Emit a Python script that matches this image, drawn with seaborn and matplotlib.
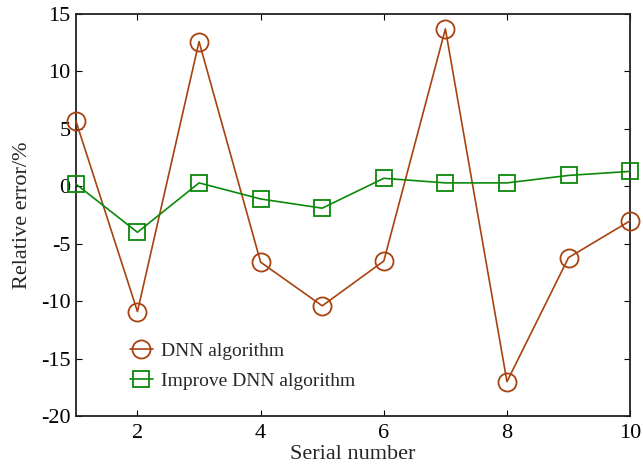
import matplotlib
matplotlib.use("Agg")
import matplotlib.pyplot as plt
import seaborn as sns
import pandas as pd

serial = [1, 2, 3, 4, 5, 6, 7, 8, 9, 10]
dnn_error = [5.7, -10.9, 12.6, -6.6, -10.4, -6.5, 13.7, -17.0, -6.2, -3.0]
improved_error = [0.2, -4.0, 0.3, -1.1, -1.9, 0.7, 0.3, 0.3, 0.95, 1.3]
series_names = ["DNN algorithm", "Improve DNN algorithm"]
x_ticks = [2, 4, 6, 8, 10]
y_ticks = [-20, -15, -10, -5, 0, 5, 10, 15]

sns.set_style("white")
plt.rcParams["font.family"] = ["Liberation Serif", "DejaVu Serif"]
plt.rcParams["axes.unicode_minus"] = False

df = pd.DataFrame({"serial": serial, "dnn": dnn_error, "improved": improved_error})

fig = plt.figure(figsize=(6.43, 4.66), dpi=100)
ax = fig.add_axes([0.118, 0.107, 0.862, 0.863])

sns.lineplot(data=df, x="serial", y="dnn", ax=ax, color="#A8420E", lw=1.2,
             marker="o", markersize=13, mfc="none", mec="#A8420E", mew=1.3,
             label=series_names[0], clip_on=False, zorder=3)
sns.lineplot(data=df, x="serial", y="improved", ax=ax, color="#0A880A", lw=1.2,
             marker="s", markersize=11, mfc="none", mec="#0A880A", mew=1.3,
             label=series_names[1], clip_on=False, zorder=3)

ax.set_xlim(1, 10)
ax.set_ylim(-20, 15)
ax.set_xticks(x_ticks)
ax.set_yticks(y_ticks)
ax.tick_params(direction="in", length=4, labelsize=16, colors="black",
               top=True, right=True, bottom=True, left=True)
ax.tick_params(axis="x", pad=6)
ax.tick_params(axis="y", pad=4)
ax.set_xlabel("Serial number", fontsize=16, labelpad=1)
ax.set_ylabel("Relative error/%", fontsize=16, labelpad=6)
for sp in ax.spines.values():
    sp.set_color("#222222")
    sp.set_linewidth(1.3)

ax.legend(loc="lower left", bbox_to_anchor=(0.09, 0.055), frameon=False,
          fontsize=14, handlelength=1.2, handletextpad=0.4, labelspacing=0.65,
          borderpad=0.2, borderaxespad=0)

fig.savefig("out.png", dpi=100)
